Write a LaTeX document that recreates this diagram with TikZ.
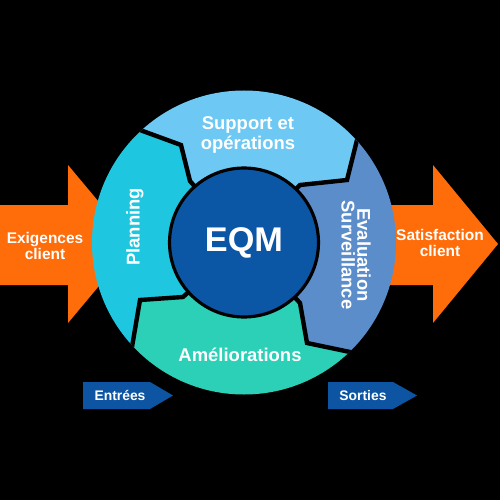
\documentclass[tikz,border=0pt]{standalone}
\usepackage{fontspec}
\setmainfont{Liberation Sans}
\definecolor{orng}{HTML}{FF6C0A}
\definecolor{supc}{HTML}{6DC8F3}
\definecolor{planc}{HTML}{1FC6DF}
\definecolor{evalc}{HTML}{5B8DCA}
\definecolor{amelc}{HTML}{2CD0B6}
\definecolor{eqmc}{HTML}{0B57A6}
\definecolor{tagc}{HTML}{0D55A2}
\begin{document}
\begin{tikzpicture}[x=0.02cm,y=-0.02cm,
  seglbl/.style={text=white,font=\bfseries\fontsize{10.5}{9}\selectfont,align=center,inner sep=0pt},
  arrlbl/.style={text=white,font=\bfseries\fontsize{8.8}{9.2}\selectfont,align=center,inner sep=0pt},
  taglbl/.style={text=white,font=\bfseries\fontsize{7.9}{9}\selectfont,inner sep=0pt},
  sepline/.style={draw=black,line width=2.5pt,line join=miter},
  bigarrow/.style={fill=orng},
  tagshape/.style={fill=tagc}]
\useasboundingbox (0,0) rectangle (500,500);
\fill[black] (0,0) rectangle (500,500);
% coordinates
\coordinate (C) at (244,242.5);
\coordinate (b1i) at (190,181);\coordinate (b1m) at (181,145);\coordinate (b1o) at (140,130);\coordinate (b1e) at (108,118);
\coordinate (b2i) at (300,185);\coordinate (b2m) at (347,180);\coordinate (b2o) at (357,140);\coordinate (b2e) at (362,118);
\coordinate (b3i) at (300,303);\coordinate (b3m) at (307,343);\coordinate (b3o) at (350,352);\coordinate (b3e) at (382,359);
\coordinate (b4i) at (183,297);\coordinate (b4m) at (140,300);\coordinate (b4o) at (132,347);\coordinate (b4e) at (128,372);
% big arrows
\fill[bigarrow] (0,205) -- (68,205) -- (68,165) -- (134,244) -- (68,323) -- (68,285) -- (0,285) -- cycle;
\fill[bigarrow] (360,205) -- (433,205) -- (433,165) -- (498,244) -- (433,323) -- (433,285) -- (360,285) -- cycle;
\node[arrlbl] (exig) at (45,246) {Exigences\\client};
\node[arrlbl] (satis) at (440,243) {Satisfaction\\client};
% tags
\fill[tagshape] (83,382) -- (150,382) -- (173,395.5) -- (150,409) -- (83,409) -- cycle;
\fill[tagshape] (328,382) -- (393,382) -- (417,395.5) -- (393,409) -- (328,409) -- cycle;
\node[taglbl] (entrees) at (120,395.5) {Entrées};
\node[taglbl] (sorties) at (363,395.5) {Sorties};
% segments
\begin{scope}
\clip (C) circle[radius=152];
\fill[supc] (C) -- (b1i) -- (b1m) -- (b1o) -- (b1e) -- (100,40) -- (385,40) -- (b2e) -- (b2o) -- (b2m) -- (b2i) -- cycle;
\fill[evalc] (C) -- (b2i) -- (b2m) -- (b2o) -- (b2e) -- (470,100) -- (470,400) -- (b3e) -- (b3o) -- (b3m) -- (b3i) -- cycle;
\fill[amelc] (C) -- (b3i) -- (b3m) -- (b3o) -- (b3e) -- (400,470) -- (100,470) -- (b4e) -- (b4o) -- (b4m) -- (b4i) -- cycle;
\fill[planc] (C) -- (b4i) -- (b4m) -- (b4o) -- (b4e) -- (20,400) -- (20,100) -- (b1e) -- (b1o) -- (b1m) -- (b1i) -- cycle;
\draw[sepline] (C) -- (b1i) -- (b1m) -- (b1o) -- (b1e);
\draw[sepline] (C) -- (b2i) -- (b2m) -- (b2o) -- (b2e);
\draw[sepline] (C) -- (b3i) -- (b3m) -- (b3o) -- (b3e);
\draw[sepline] (C) -- (b4i) -- (b4m) -- (b4o) -- (b4e);
\end{scope}
% centre
\node[circle,fill=eqmc,draw=black,line width=1.8pt,minimum size=2.98cm,inner sep=0pt,
  text=white,font=\bfseries\fontsize{19.5}{20}\selectfont] (eqm) at (C) {EQM};
% labels
\node[seglbl] (support) at (248,135) {Support et\\opérations};
\node[seglbl,rotate=90] (planning) at (135,227) {Planning};
\node[seglbl,rotate=-90] (evaluation) at (356,255) {Evaluation\\Surveillance};
\node[seglbl] (amelio) at (240,355) {Améliorations};
\end{tikzpicture}
\end{document}
